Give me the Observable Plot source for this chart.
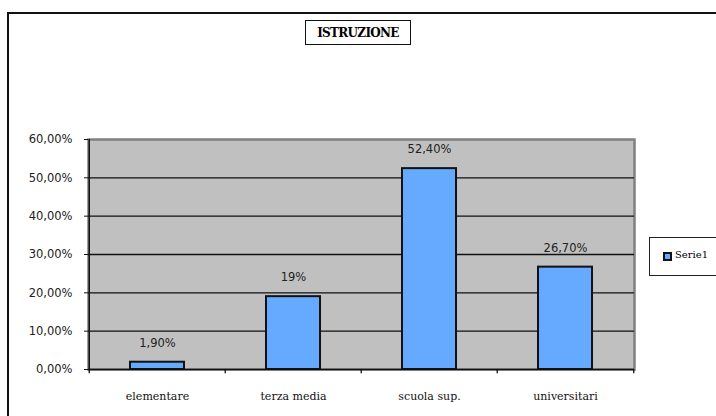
<!DOCTYPE html>
<html>
<head>
<meta charset="utf-8">
<script src="https://cdn.jsdelivr.net/npm/d3@7"></script>
<script src="https://cdn.jsdelivr.net/npm/@observablehq/plot@0.6"></script>
<style>
  html, body { margin: 0; padding: 0; background: #fff; overflow: hidden; width: 716px; height: 416px; }
  #wrap { position: relative; width: 716px; height: 416px; }
  #border { position: absolute; left: 7px; top: 12px; width: 900px; height: 600px; border-left: 2px solid #111; border-top: 2px solid #111; box-sizing: border-box; pointer-events: none; }
  #title { position: absolute; left: 305px; top: 20px; width: 106px; height: 25px; box-sizing: border-box; border: 1.5px solid #111; font-family: "DejaVu Serif", serif; font-weight: bold; font-size: 12px; display: flex; align-items: center; justify-content: center; letter-spacing: -0.7px; background: #fff; }
  #legend { position: absolute; left: 649px; top: 237px; width: 90px; height: 39px; box-sizing: border-box; border: 1.5px solid #222; background: #fff; font-family: "DejaVu Serif", serif; font-size: 10px; }
  #legend .sw { position: absolute; left: 13px; top: 14px; width: 5px; height: 5px; background: #66AAFF; border: 2px solid #111; }
  #legend .lb { position: absolute; left: 25px; top: 11px; }
  #chart { position: absolute; left: 0; top: 0; }
</style>
</head>
<body>
<div id="wrap">
  <div id="chart"></div>
  <div id="border"></div>
  <div id="title">ISTRUZIONE</div>
  <div id="legend"><div class="sw"></div><div class="lb">Serie1</div></div>
</div>
<script>
const categories = ["elementare", "terza media", "scuola sup.", "universitari"];
const values = [0.019, 0.19, 0.524, 0.267];
const valueLabels = ["1,90%", "19%", "52,40%", "26,70%"];
const yTicks = [0, 0.1, 0.2, 0.3, 0.4, 0.5, 0.6];
const seriesName = "Serie1";

const data = categories.map((c, i) => ({cat: c, value: values[i], label: valueLabels[i]}));

const W = 716, H = 416;
const mLeft = 88, mRight = 82, mTop = 139, mBottom = 47;
const step = (W - mLeft - mRight) / categories.length;
const serif = "'DejaVu Serif', serif";

const fmt = d => (d * 100).toFixed(2).replace(".", ",") + "%";

const chart = Plot.plot({
  width: W,
  height: H,
  marginLeft: mLeft,
  marginRight: mRight,
  marginTop: mTop,
  marginBottom: mBottom,
  style: {background: "transparent"},
  x: {type: "band", domain: categories, paddingInner: 0.6, paddingOuter: 0.3, label: null},
  y: {domain: [0, 0.6], label: null},
  marks: [
    Plot.frame({fill: "#C0C0C0", stroke: "#808080", strokeWidth: 2.5}),
    Plot.ruleY(yTicks.slice(1, -1), {stroke: "#111", strokeWidth: 1.3}),
    Plot.barY(data, {x: "cat", y: "value", fill: "#66AAFF", stroke: "#111", strokeWidth: 2}),
    Plot.ruleY([0], {stroke: "#111", strokeWidth: 1.5}),
    Plot.ruleX([categories[0]], {x: d => d, dx: -step / 2, y1: 0, y2: 0.6, stroke: "#111", strokeWidth: 1.5}),
    Plot.ruleX(categories, {x: d => d, dx: -step / 2, y1: 0, y2: -0.011, stroke: "#111", strokeWidth: 1.3}),
    Plot.ruleX([categories[categories.length - 1]], {x: d => d, dx: step / 2, y1: 0, y2: -0.011, stroke: "#111", strokeWidth: 1.3}),
    Plot.text(data, {x: "cat", y: "value", text: "label", dy: -19, fontSize: 11.5, fontFamily: "DejaVu Sans", fill: "#222"}),
    Plot.axisY({ticks: yTicks, tickFormat: fmt, tickSize: 4, tickPadding: 12, fontSize: 11.5, fontFamily: "DejaVu Sans", stroke: "#111", fill: "#222"}),
    Plot.axisX({tickSize: 0, tickPadding: 23, fontSize: 11, fontFamily: serif, fill: "#111"})
  ]
});
document.getElementById("chart").appendChild(chart);
</script>
</body>
</html>
